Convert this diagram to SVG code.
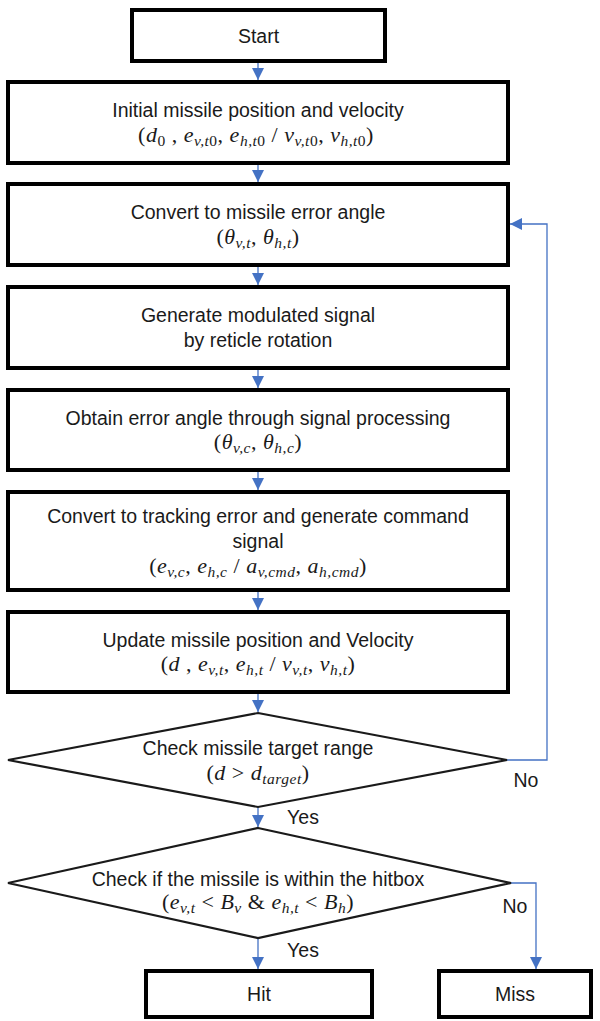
<svg xmlns="http://www.w3.org/2000/svg" width="600" height="1021" viewBox="0 0 600 1021">
<style>
.box{fill:#fff;stroke:#000;stroke-width:4}
.dia{fill:#fff;stroke:#1a1a1a;stroke-width:2.2}
.t{font-family:"Liberation Sans",Arial,sans-serif;font-size:19.5px;fill:#1a1a1a;text-anchor:middle}
.m{font-family:"Liberation Serif","Times New Roman",serif;font-size:22px;font-style:italic;fill:#1a1a1a;text-anchor:middle;letter-spacing:0.5px}
.s{font-size:15.5px}
.u{font-style:normal}
.c{fill:none;stroke:#4472C4;stroke-width:1.3}
</style>
<defs>
<marker id="ah" markerUnits="userSpaceOnUse" markerWidth="12" markerHeight="12" viewBox="0 0 12 12" refX="12" refY="6" orient="auto">
<path d="M0,0 L12,6 L0,12 z" fill="#4472C4"/>
</marker>
</defs>
<rect width="600" height="1021" fill="#fff"/>
<g id="connectors">
<path class="c" d="M258,61 V80" marker-end="url(#ah)"/>
<path class="c" d="M258,163 V182" marker-end="url(#ah)"/>
<path class="c" d="M258,265 V285" marker-end="url(#ah)"/>
<path class="c" d="M258,368 V388" marker-end="url(#ah)"/>
<path class="c" d="M258,470 V490" marker-end="url(#ah)"/>
<path class="c" d="M258,590 V610" marker-end="url(#ah)"/>
<path class="c" d="M258,692 V712" marker-end="url(#ah)"/>
<path class="c" d="M258,807 V827" marker-end="url(#ah)"/>
<path class="c" d="M258,938 V969" marker-end="url(#ah)"/>
<path class="c" d="M507,760 H547 V224 H510" marker-end="url(#ah)"/>
<path class="c" d="M511,883 H536 V969" marker-end="url(#ah)"/>
</g>
<g id="start">
<rect class="box" x="132" y="10" width="253" height="51"/>
<text class="t" x="258.5" y="42.5">Start</text>
</g>
<g id="init">
<rect class="box" x="8" y="82" width="500" height="81"/>
<text class="t" x="258" y="117">Initial missile position and velocity</text>
<text class="m" x="256" y="142"><tspan class="u">(</tspan>d<tspan class="s u" dy="4">0</tspan><tspan class="u" dy="-4"> , </tspan>e<tspan class="s" dy="4">v,t</tspan><tspan class="s u">0</tspan><tspan class="u" dy="-4">, </tspan>e<tspan class="s" dy="4">h,t</tspan><tspan class="s u">0</tspan><tspan class="u" dy="-4"> / </tspan>v<tspan class="s" dy="4">v,t</tspan><tspan class="s u">0</tspan><tspan class="u" dy="-4">, </tspan>v<tspan class="s" dy="4">h,t</tspan><tspan class="s u">0</tspan><tspan class="u" dy="-4">)</tspan></text>
</g>
<g id="convert-angle">
<rect class="box" x="8" y="184" width="500" height="81"/>
<text class="t" x="258" y="219">Convert to missile error angle</text>
<text class="m" x="258" y="244"><tspan class="u">(</tspan>θ<tspan class="s" dy="4">v,t</tspan><tspan class="u" dy="-4">, </tspan>θ<tspan class="s" dy="4">h,t</tspan><tspan class="u" dy="-4">)</tspan></text>
</g>
<g id="modulate">
<rect class="box" x="8" y="287" width="500" height="81"/>
<text class="t" x="258" y="322">Generate modulated signal</text>
<text class="t" x="258" y="347">by reticle rotation</text>
</g>
<g id="obtain">
<rect class="box" x="8" y="390" width="500" height="80"/>
<text class="t" x="258" y="424.5">Obtain error angle through signal processing</text>
<text class="m" x="258" y="449"><tspan class="u">(</tspan>θ<tspan class="s" dy="4">v,c</tspan><tspan class="u" dy="-4">, </tspan>θ<tspan class="s" dy="4">h,c</tspan><tspan class="u" dy="-4">)</tspan></text>
</g>
<g id="command">
<rect class="box" x="8" y="492" width="500" height="98"/>
<text class="t" x="258" y="523">Convert to tracking error and generate command</text>
<text class="t" x="258" y="548">signal</text>
<text class="m" x="258" y="573"><tspan class="u">(</tspan>e<tspan class="s" dy="4">v,c</tspan><tspan class="u" dy="-4">, </tspan>e<tspan class="s" dy="4">h,c</tspan><tspan class="u" dy="-4"> / </tspan>a<tspan class="s" dy="4">v,cmd</tspan><tspan class="u" dy="-4">, </tspan>a<tspan class="s" dy="4">h,cmd</tspan><tspan class="u" dy="-4">)</tspan></text>
</g>
<g id="update">
<rect class="box" x="8" y="612" width="500" height="80"/>
<text class="t" x="258" y="646.5">Update missile position and Velocity</text>
<text class="m" x="258" y="671"><tspan class="u">(</tspan>d<tspan class="u"> , </tspan>e<tspan class="s" dy="4">v,t</tspan><tspan class="u" dy="-4">, </tspan>e<tspan class="s" dy="4">h,t</tspan><tspan class="u" dy="-4"> / </tspan>v<tspan class="s" dy="4">v,t</tspan><tspan class="u" dy="-4">, </tspan>v<tspan class="s" dy="4">h,t</tspan><tspan class="u" dy="-4">)</tspan></text>
</g>
<g id="check-range">
<polygon class="dia" points="258,713 507,760 258,807 8,760"/>
<text class="t" x="258" y="755">Check missile target range</text>
<text class="m" x="258" y="780"><tspan class="u">(</tspan>d<tspan class="u"> &gt; </tspan>d<tspan class="s" dy="4">target</tspan><tspan class="u" dy="-4">)</tspan></text>
</g>
<g id="check-hitbox">
<polygon class="dia" points="258,828 511,883 258,938 8,883"/>
<text class="t" x="258" y="886">Check if the missile is within the hitbox</text>
<text class="m" x="258" y="909"><tspan class="u">(</tspan>e<tspan class="s" dy="4">v,t</tspan><tspan class="u" dy="-4"> &lt; </tspan>B<tspan class="s" dy="4">v</tspan><tspan class="u" dy="-4"> &amp; </tspan>e<tspan class="s" dy="4">h,t</tspan><tspan class="u" dy="-4"> &lt; </tspan>B<tspan class="s" dy="4">h</tspan><tspan class="u" dy="-4">)</tspan></text>
</g>
<g id="labels">
<text class="t" x="526" y="787">No</text>
<text class="t" x="303" y="824">Yes</text>
<text class="t" x="515" y="913">No</text>
<text class="t" x="303" y="957">Yes</text>
</g>
<g id="hit">
<rect class="box" x="146" y="971" width="226" height="46"/>
<text class="t" x="259" y="1001">Hit</text>
</g>
<g id="miss">
<rect class="box" x="439" y="971" width="152" height="46"/>
<text class="t" x="515" y="1001">Miss</text>
</g>
</svg>
